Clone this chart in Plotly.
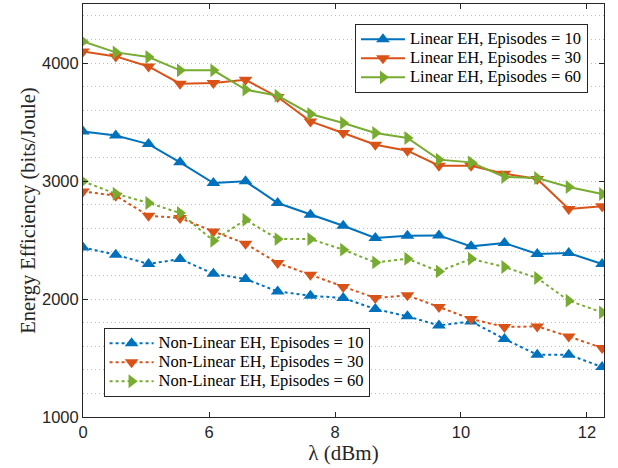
import plotly.graph_objects as go

x_vals = [4.0, 4.52, 5.04, 5.54, 6.07, 6.58, 7.09, 7.61, 8.13, 8.64, 9.15, 9.65, 10.16, 10.69, 11.21, 11.71, 12.24]
x_tickvals = [4, 6, 8, 10, 12]
x_ticktext = ["0", "6", "8", "10", "12"]
y_tickvals = [1000, 2000, 3000, 4000]

lin_10 = [3420, 3386, 3313, 3158, 2983, 2997, 2813, 2714, 2621, 2517, 2536, 2539, 2446, 2474, 2381, 2390, 2297]
lin_30 = [4098, 4056, 3971, 3825, 3831, 3858, 3712, 3505, 3407, 3308, 3257, 3130, 3130, 3062, 3017, 2763, 2785]
lin_60 = [4183, 4090, 4051, 3938, 3938, 3774, 3723, 3568, 3492, 3407, 3364, 3181, 3158, 3034, 3025, 2949, 2890]
nl_10 = [2437, 2375, 2297, 2339, 2214, 2169, 2064, 2028, 2008, 1915, 1853, 1776, 1810, 1661, 1528, 1528, 1424]
nl_30 = [2912, 2875, 2706, 2686, 2573, 2469, 2305, 2206, 2102, 2008, 2031, 1932, 1831, 1763, 1768, 1683, 1585]
nl_60 = [2997, 2892, 2814, 2729, 2494, 2672, 2508, 2508, 2418, 2310, 2341, 2234, 2341, 2271, 2178, 1986, 1887]

BLUE, ORANGE, GREEN = "#0072BD", "#D95319", "#77AC30"

series = [
    ("Linear EH, Episodes = 10", lin_10, BLUE, "triangle-up", "solid", "legend"),
    ("Linear EH, Episodes = 30", lin_30, ORANGE, "triangle-down", "solid", "legend"),
    ("Linear EH, Episodes = 60", lin_60, GREEN, "triangle-right", "solid", "legend"),
    ("Non-Linear EH, Episodes = 10", nl_10, BLUE, "triangle-up", "dot", "legend2"),
    ("Non-Linear EH, Episodes = 30", nl_30, ORANGE, "triangle-down", "dot", "legend2"),
    ("Non-Linear EH, Episodes = 60", nl_60, GREEN, "triangle-right", "dot", "legend2"),
]

SERIF = "Liberation Serif, Times New Roman, serif"
SANS = "Liberation Sans, Arial, sans-serif"

fig = go.Figure()
for name, y, color, sym, dash, leg in series:
    fig.add_trace(go.Scatter(
        x=x_vals, y=y, mode="lines+markers",
        name='<span style="font-size:16.5px">' + name + '</span>',
        line=dict(color=color, width=2, dash=dash),
        marker=dict(symbol=sym, size=12, color=color, line=dict(width=0)),
        legend=leg, cliponaxis=True,
    ))

axis_col = "#262626"
grid_col = "#bdbdbd"
leg_common = dict(
    bgcolor="white", bordercolor=axis_col, borderwidth=1,
    font=dict(family=SERIF, size=11, color="black"),
    tracegroupgap=0, itemwidth=44,
)
fig.update_layout(
    width=618, height=468,
    margin=dict(l=83, r=14, t=4, b=51),
    paper_bgcolor="white", plot_bgcolor="white",
    font=dict(family=SERIF, size=16, color=axis_col),
    xaxis=dict(
        range=[4, 12.27], tickvals=x_tickvals, ticktext=x_ticktext,
        ticks="inside", ticklen=5, tickcolor=axis_col, mirror="ticks",
        showline=True, linecolor=axis_col, linewidth=1, showgrid=False, zeroline=False,
        tickfont=dict(family=SANS, size=16.5, color=axis_col),
        title=dict(text="λ (dBm)", font=dict(family=SERIF, size=21, color=axis_col), standoff=2),
    ),
    yaxis=dict(
        range=[1000, 4500], tickvals=y_tickvals,
        ticks="inside", ticklen=5, tickcolor=axis_col, mirror="ticks",
        showline=True, linecolor=axis_col, linewidth=1, zeroline=False,
        showgrid=True, gridcolor=grid_col, griddash="1px,3px", gridwidth=1,
        minor=dict(dtick=200, tick0=1000, showgrid=True, gridcolor=grid_col, griddash="1px,3px", ticks=""),
        tickfont=dict(family=SANS, size=16.5, color=axis_col),
        title=dict(text="Energy Efficiency (bits/Joule)", font=dict(family=SERIF, size=20.5, color=axis_col), standoff=0),
    ),
    legend=dict(x=0.522, y=0.952, xanchor="left", yanchor="top", **leg_common),
    legend2=dict(x=0.0395, y=0.049, xanchor="left", yanchor="bottom", **leg_common),
)

fig.write_html("out.html")
